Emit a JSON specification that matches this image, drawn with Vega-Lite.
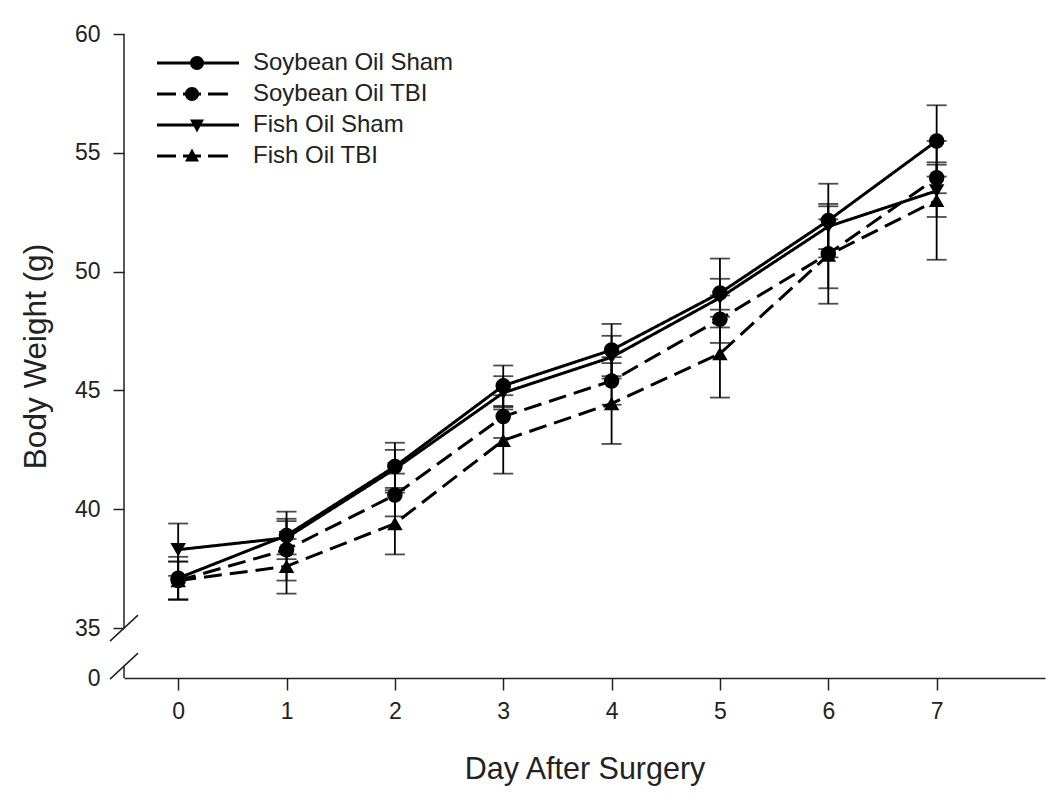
{
  "$schema": "https://vega.github.io/schema/vega-lite/v6.json",
  "width": 921,
  "height": 644,
  "autosize": {"type": "none"},
  "padding": {"left": 124, "top": 34, "right": 5, "bottom": 126},
  "background": "white",
  "config": {"view": {"stroke": null}, "font": "Liberation Sans"},
  "data": {
    "values": [
      {"series": "Soybean Oil Sham", "day": 0, "mean": 37.1, "sem": 0.9},
      {"series": "Soybean Oil Sham", "day": 1, "mean": 38.9, "sem": 1.0},
      {"series": "Soybean Oil Sham", "day": 2, "mean": 41.8, "sem": 1.0},
      {"series": "Soybean Oil Sham", "day": 3, "mean": 45.2, "sem": 0.85},
      {"series": "Soybean Oil Sham", "day": 4, "mean": 46.7, "sem": 1.1},
      {"series": "Soybean Oil Sham", "day": 5, "mean": 49.1, "sem": 1.45},
      {"series": "Soybean Oil Sham", "day": 6, "mean": 52.15, "sem": 1.55},
      {"series": "Soybean Oil Sham", "day": 7, "mean": 55.5, "sem": 1.5},
      {"series": "Soybean Oil TBI", "day": 0, "mean": 37.0, "sem": 0.8},
      {"series": "Soybean Oil TBI", "day": 1, "mean": 38.3, "sem": 1.3},
      {"series": "Soybean Oil TBI", "day": 2, "mean": 40.6, "sem": 0.9},
      {"series": "Soybean Oil TBI", "day": 3, "mean": 43.9, "sem": 0.9},
      {"series": "Soybean Oil TBI", "day": 4, "mean": 45.4, "sem": 1.0},
      {"series": "Soybean Oil TBI", "day": 5, "mean": 48.0, "sem": 1.0},
      {"series": "Soybean Oil TBI", "day": 6, "mean": 50.75, "sem": 1.45},
      {"series": "Soybean Oil TBI", "day": 7, "mean": 53.95, "sem": 0.65},
      {"series": "Fish Oil Sham", "day": 0, "mean": 38.3, "sem": 1.1},
      {"series": "Fish Oil Sham", "day": 1, "mean": 38.8, "sem": 0.7},
      {"series": "Fish Oil Sham", "day": 2, "mean": 41.7, "sem": 0.8},
      {"series": "Fish Oil Sham", "day": 3, "mean": 44.9, "sem": 0.7},
      {"series": "Fish Oil Sham", "day": 4, "mean": 46.4, "sem": 0.9},
      {"series": "Fish Oil Sham", "day": 5, "mean": 48.9, "sem": 0.8},
      {"series": "Fish Oil Sham", "day": 6, "mean": 51.9, "sem": 0.95},
      {"series": "Fish Oil Sham", "day": 7, "mean": 53.4, "sem": 1.1},
      {"series": "Fish Oil TBI", "day": 0, "mean": 37.0, "sem": 0.8},
      {"series": "Fish Oil TBI", "day": 1, "mean": 37.6, "sem": 1.15},
      {"series": "Fish Oil TBI", "day": 2, "mean": 39.4, "sem": 1.3},
      {"series": "Fish Oil TBI", "day": 3, "mean": 42.9, "sem": 1.4},
      {"series": "Fish Oil TBI", "day": 4, "mean": 44.45, "sem": 1.7},
      {"series": "Fish Oil TBI", "day": 5, "mean": 46.55, "sem": 1.85},
      {"series": "Fish Oil TBI", "day": 6, "mean": 50.7, "sem": 2.05},
      {"series": "Fish Oil TBI", "day": 7, "mean": 53.0, "sem": 2.5}
    ]
  },
  "encoding": {
    "x": {
      "field": "day",
      "type": "quantitative",
      "scale": {"domain": [-0.5, 8], "nice": false, "zero": false},
      "axis": {
        "title": "Day After Surgery",
        "values": [0, 1, 2, 3, 4, 5, 6, 7],
        "format": "d",
        "grid": false,
        "domainColor": "#222",
        "domainWidth": 1.5,
        "tickColor": "#222",
        "tickWidth": 1.5,
        "tickSize": 12,
        "labelFontSize": 23,
        "labelPadding": 10,
        "labelColor": "#222",
        "labelFont": "Liberation Sans",
        "titleFont": "Liberation Sans",
        "titleFontSize": 30.5,
        "titleFontWeight": "normal",
        "titleColor": "#222",
        "titleBaseline": "top",
        "titleY": 76
      }
    },
    "y": {
      "field": "mean",
      "type": "quantitative",
      "scale": {"domain": [32.9, 60], "nice": false, "zero": false},
      "axis": {
        "title": "Body Weight (g)",
        "values": [32.9, 35, 40, 45, 50, 55, 60],
        "format": "d",
        "labelExpr": "datum.value < 34 ? '0' : datum.label",
        "domain": false,
        "grid": false,
        "tickColor": "#222",
        "tickWidth": 1.5,
        "tickSize": 11,
        "tickOpacity": {"condition": {"test": "datum.value < 34", "value": 0}, "value": 1},
        "labelFontSize": 23,
        "labelPadding": 13,
        "labelColor": "#222",
        "labelFont": "Liberation Sans",
        "titleFont": "Liberation Sans",
        "titleFontSize": 31.5,
        "titleFontWeight": "normal",
        "titleColor": "#222",
        "titleBaseline": "middle",
        "titleX": -88
      }
    }
  },
  "layer": [
    {
      "transform": [{"filter": "datum.day == 0 && datum.series == 'Fish Oil TBI'"}],
      "mark": {"type": "rule", "stroke": "#222", "strokeWidth": 1.5},
      "encoding": {
        "x": {"datum": -0.5, "type": "quantitative"},
        "y": {"datum": 35, "type": "quantitative"},
        "y2": {"datum": 60}
      }
    },
    {
      "transform": [{"filter": "datum.day == 0 && datum.series == 'Fish Oil TBI'"}],
      "mark": {"type": "rule", "stroke": "#222", "strokeWidth": 1.5},
      "encoding": {
        "x": {"datum": -0.5, "type": "quantitative"},
        "y": {"datum": 32.9, "type": "quantitative"},
        "y2": {"datum": 33.4}
      }
    },
    {
      "transform": [{"filter": "datum.day == 0 && datum.series == 'Fish Oil TBI'"}],
      "mark": {"type": "point", "shape": "M-1,0.93L1,-0.93", "size": 784, "filled": false, "stroke": "#222", "strokeWidth": 1.5, "opacity": 1},
      "encoding": {
        "x": {"datum": -0.5, "type": "quantitative"},
        "y": {"datum": 35, "type": "quantitative"}
      }
    },
    {
      "transform": [{"filter": "datum.day == 0 && datum.series == 'Fish Oil TBI'"}],
      "mark": {"type": "point", "shape": "M-1,0.93L1,-0.93", "size": 784, "filled": false, "stroke": "#222", "strokeWidth": 1.5, "opacity": 1},
      "encoding": {
        "x": {"datum": -0.5, "type": "quantitative"},
        "y": {"datum": 33.4, "type": "quantitative"}
      }
    },
    {
      "mark": {"type": "errorbar", "color": "black", "ticks": {"size": 20, "thickness": 1.8}, "rule": {"strokeWidth": 1.8}},
      "encoding": {
        "y": {"field": "mean", "type": "quantitative"},
        "yError": {"field": "sem"},
        "detail": {"field": "series"}
      }
    },
    {
      "mark": {"type": "line", "color": "black", "strokeWidth": 3},
      "encoding": {
        "strokeDash": {
          "field": "series",
          "scale": {"domain": ["Soybean Oil Sham", "Soybean Oil TBI", "Fish Oil Sham", "Fish Oil TBI"], "range": [[1, 0], [18, 8], [1, 0], [18, 8]]},
          "legend": null
        },
        "detail": {"field": "series"}
      }
    },
    {
      "mark": {"type": "point", "filled": true, "color": "black", "size": 240, "opacity": 1},
      "encoding": {
        "shape": {
          "field": "series",
          "scale": {"domain": ["Soybean Oil Sham", "Soybean Oil TBI", "Fish Oil Sham", "Fish Oil TBI"], "range": ["circle", "circle", "triangle-down", "triangle-up"]},
          "legend": null
        }
      }
    },
    {
      "transform": [{"filter": "false"}],
      "mark": {"type": "point", "filled": true, "color": "black", "opacity": 1},
      "encoding": {
        "shape": {
          "field": "series",
          "scale": {
            "domain": ["Soybean Oil Sham", "Soybean Oil TBI", "Fish Oil Sham", "Fish Oil TBI"],
            "range": [
              "M-1,-0.15L7.2,-0.15L7.2,0.15L-1,0.15Z M2.3,0A0.7,0.7,0,1,1,3.7,0A0.7,0.7,0,1,1,2.3,0Z",
              "M-1,-0.15L0.9,-0.15L0.9,0.15L-1,0.15Z M1.6,-0.15L3.4,-0.15L3.4,0.15L1.6,0.15Z M4.1,-0.15L6.1,-0.15L6.1,0.15L4.1,0.15Z M1.8,0A0.7,0.7,0,1,1,3.2,0A0.7,0.7,0,1,1,1.8,0Z",
              "M-1,-0.15L7.2,-0.15L7.2,0.15L-1,0.15Z M2.3,-0.55L3.7,-0.55L3,0.75Z",
              "M-1,-0.15L0.9,-0.15L0.9,0.15L-1,0.15Z M1.6,-0.15L3.4,-0.15L3.4,0.15L1.6,0.15Z M4.1,-0.15L6.1,-0.15L6.1,0.15L4.1,0.15Z M2.5,-0.75L3.2,0.55L1.8,0.55Z"
            ]
          },
          "legend": {
            "orient": "none",
            "legendX": 31,
            "legendY": 17,
            "title": null,
            "padding": 0,
            "symbolSize": 400,
            "symbolOffset": 0,
            "symbolFillColor": "black",
            "labelFontSize": 24,
            "labelFont": "Liberation Sans",
            "labelColor": "#222",
            "labelOffset": 74,
            "rowPadding": 7,
            "labelLimit": 400
          }
        }
      }
    }
  ],
  "resolve": {"scale": {"shape": "independent"}, "legend": {"shape": "independent"}}
}
